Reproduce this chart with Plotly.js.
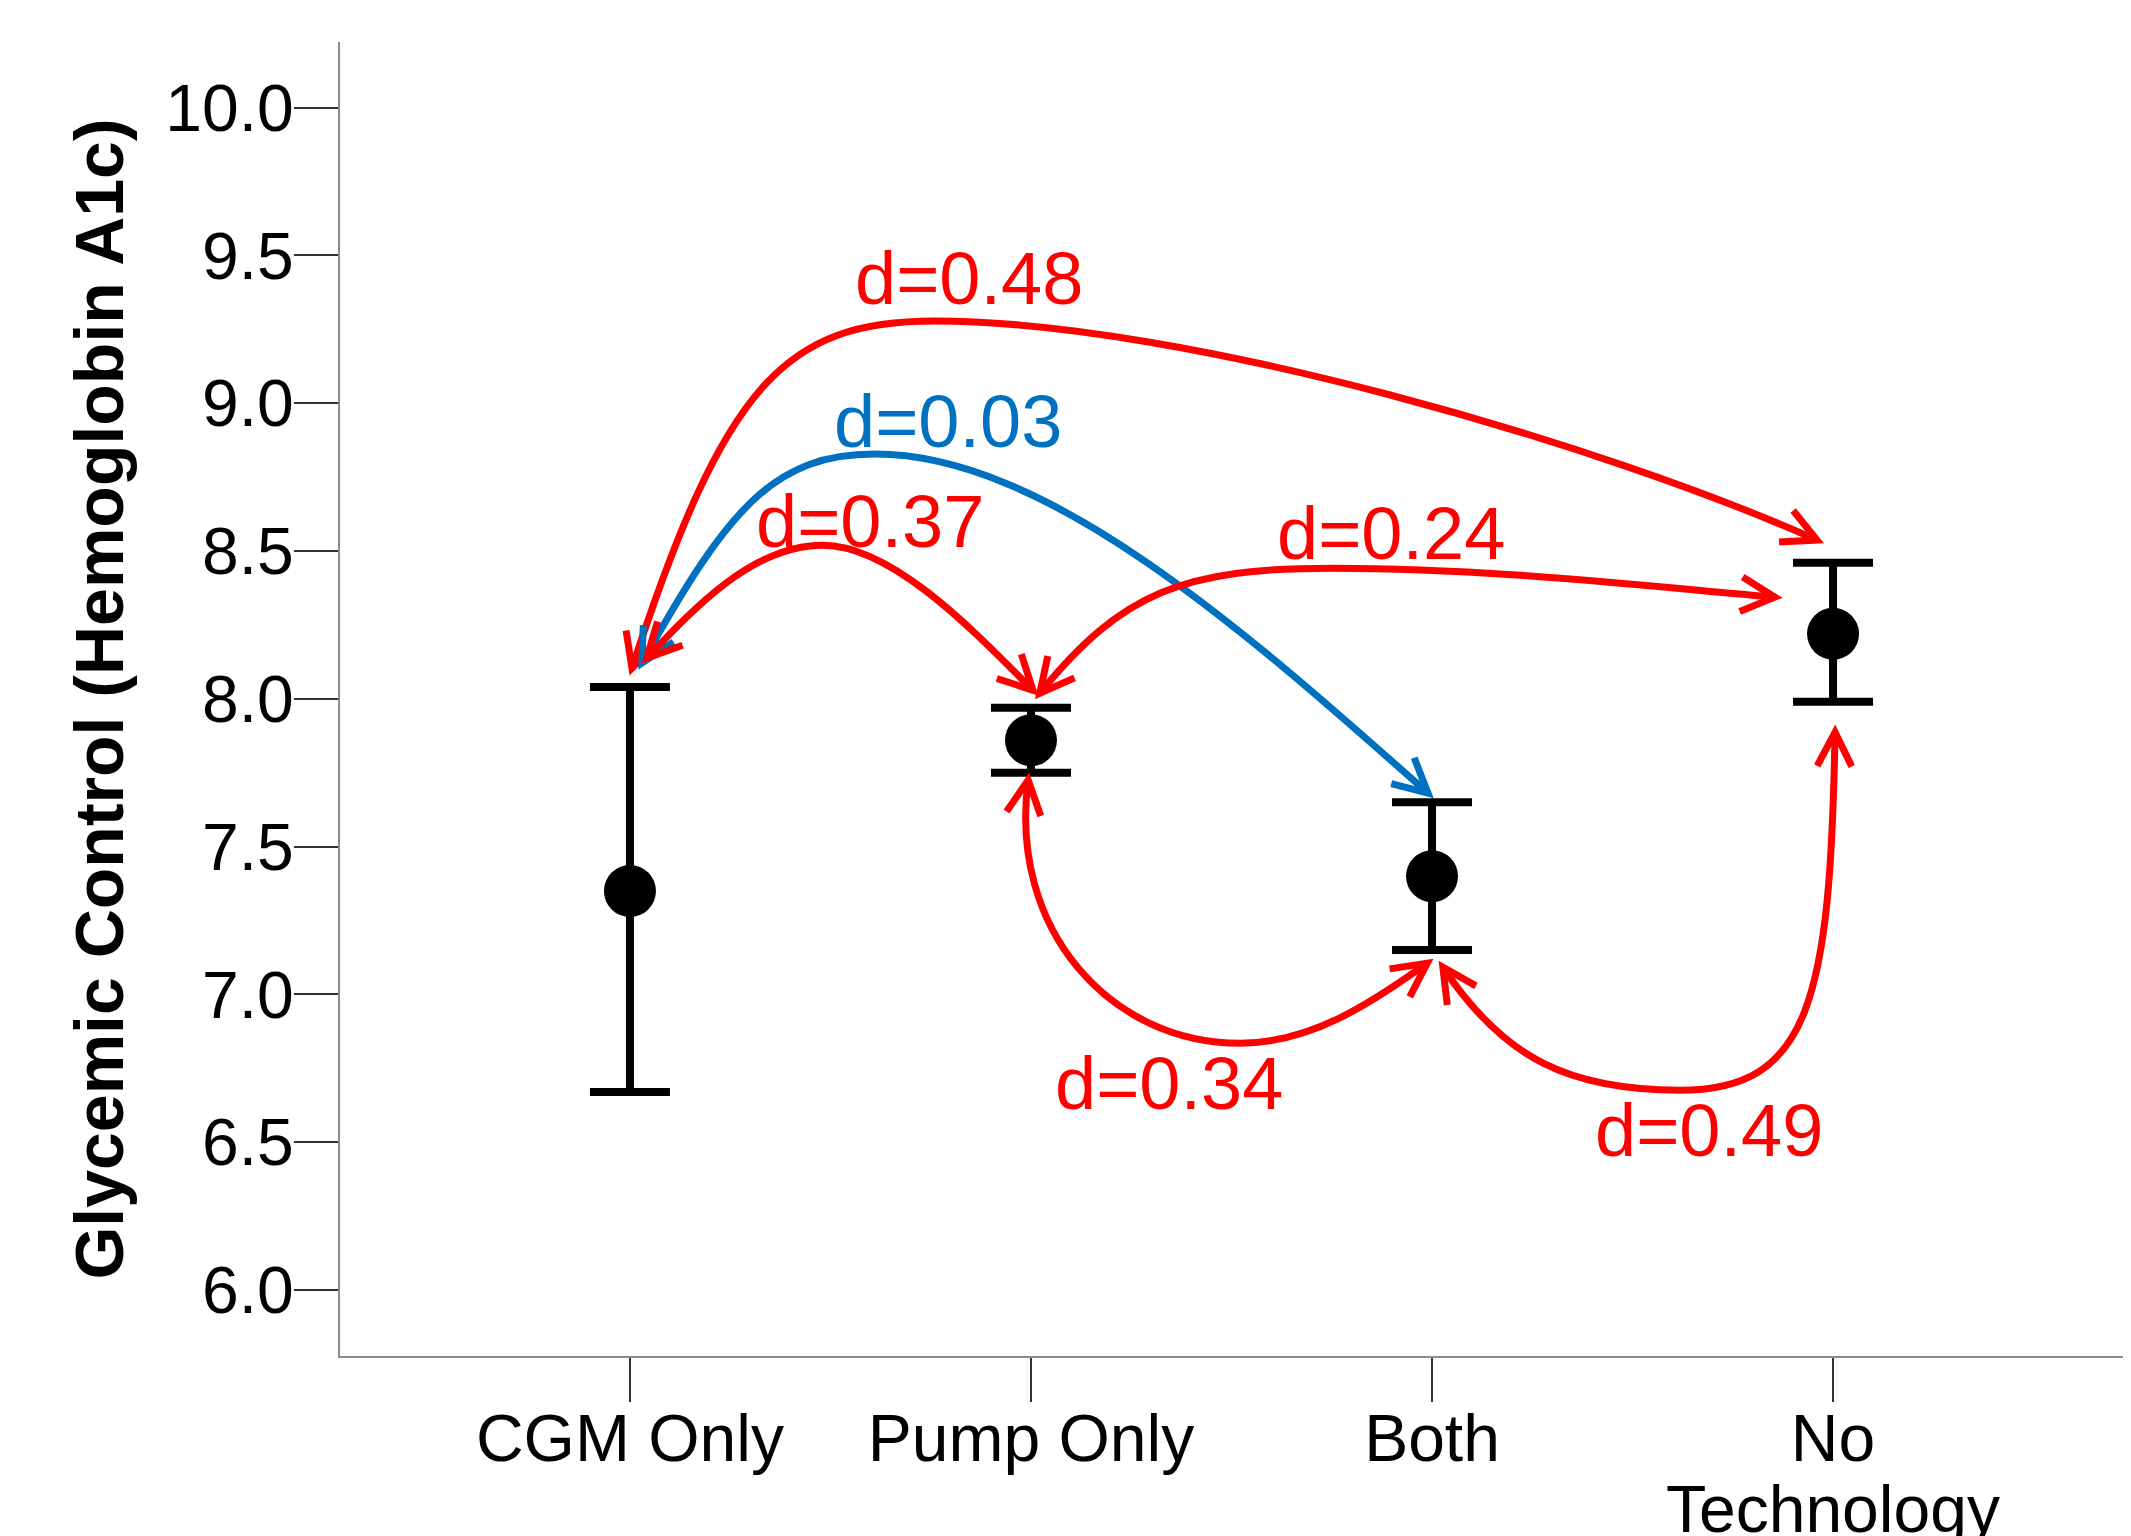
<!DOCTYPE html>
<html><head><meta charset="utf-8">
<script src="https://cdn.plot.ly/plotly-3.0.1.min.js"></script>
<style>html,body{margin:0;padding:0;background:#fff}</style>
</head><body>
<div id="chart" style="width:2131px;height:1536px"></div>
<script>
// ---- data ----
const categories = ["CGM Only", "Pump Only", "Both", "No Technology"];
const tickLabels = ["CGM Only", "Pump Only", "Both", "No"];
const meanA1c = [7.35, 7.86, 7.40, 8.22];
const upperCI = [8.04, 7.97, 7.65, 8.46];
const lowerCI = [6.67, 7.75, 7.15, 7.99];
const yTicks = [6.0, 6.5, 7.0, 7.5, 8.0, 8.5, 9.0, 9.5, 10.0];

// effect-size labels
const effectLabels = ["d=0.48", "d=0.03", "d=0.37", "d=0.24", "d=0.34", "d=0.49"];
const effectColors = ["#FF0000", "#0070C0", "#FF0000", "#FF0000", "#FF0000", "#FF0000"];
const labelX = [0.845, 0.793, 0.599, 1.897, 1.343, 2.690];
const labelY = [9.423, 8.939, 8.601, 8.561, 6.700, 6.541];

// connector curves: two cubic Bezier segments each
// [start, ctrl, ctrl, mid, ctrl, ctrl, end]  (x = category index, y = A1c units)
const arc048X = [0.005, 0.237, 0.387, 0.761, 1.384, 2.431, 2.960];
const arc048Y = [8.104, 9.068, 9.278, 9.278, 9.278, 8.858, 8.537];
const arc003X = [0.030, 0.247, 0.362, 0.611, 1.035, 1.524, 1.990];
const arc003Y = [8.121, 8.652, 8.828, 8.828, 8.828, 8.243, 7.681];
const arc037X = [0.042, 0.162, 0.307, 0.481, 0.656, 0.863, 1.005];
const arc037Y = [8.138, 8.310, 8.520, 8.520, 8.520, 8.222, 8.029];
const arc024X = [1.022, 1.227, 1.379, 1.753, 2.127, 2.484, 2.855];
const arc024Y = [8.019, 8.361, 8.442, 8.442, 8.442, 8.388, 8.344];
const arc034X = [0.993, 0.943, 1.197, 1.521, 1.696, 1.845, 1.988];
const arc034Y = [7.725, 7.221, 6.835, 6.835, 6.835, 6.967, 7.106];
const arc049X = [2.027, 2.180, 2.344, 2.618, 2.943, 2.993, 3.005];
const arc049Y = [7.092, 6.781, 6.676, 6.676, 6.676, 6.981, 7.887];

const arcsX = [arc048X, arc003X, arc037X, arc024X, arc034X, arc049X];
const arcsY = [arc048Y, arc003Y, arc037Y, arc024Y, arc034Y, arc049Y];

// ---- layout geometry ----
const W = 2131, H = 1536;
const M = {l: 340, r: 8, t: 42, b: 180};
const xRange = [-0.723, 3.723];
const yRange = [5.777, 10.222];
const pxX = (W - M.l - M.r) / (xRange[1] - xRange[0]);
const pxY = (H - M.t - M.b) / (yRange[1] - yRange[0]);
const FONT = "Liberation Sans, Arial, Helvetica, sans-serif";
const LW = 7;

const pt = (x, y) => x.toFixed(4) + ',' + y.toFixed(4);

function curvePath(xs, ys) {
  let p = 'M' + pt(xs[0], ys[0]);
  for (let i = 1; i + 2 < xs.length; i += 3) {
    p += ' C' + pt(xs[i], ys[i]) + ' ' + pt(xs[i + 1], ys[i + 1]) + ' ' + pt(xs[i + 2], ys[i + 2]);
  }
  return p;
}

function headPath(xs, ys, atEnd) {
  const n = xs.length;
  const i1 = atEnd ? n - 1 : 0, i0 = atEnd ? n - 2 : 1;
  let dx = (xs[i1] - xs[i0]) * pxX, dy = -(ys[i1] - ys[i0]) * pxY;
  const L = Math.hypot(dx, dy); dx /= L; dy /= L;
  const len = 38, ang = 27 * Math.PI / 180;
  const arm = s => {
    const c = Math.cos(s * ang), si = Math.sin(s * ang);
    const bx = -dx, by = -dy;
    const rx = bx * c - by * si, ry = bx * si + by * c;
    return [xs[i1] + rx * len / pxX, ys[i1] - ry * len / pxY];
  };
  const a = arm(1), b = arm(-1);
  return 'M' + pt(a[0], a[1]) + ' L' + pt(xs[i1], ys[i1]) + ' L' + pt(b[0], b[1]);
}

const shapes = [];
arcsX.forEach((xs, k) => {
  const ys = arcsY[k], col = effectColors[k];
  const base = {type: 'path', xref: 'x', yref: 'y', layer: 'above',
                line: {color: col, width: LW}};
  shapes.push(Object.assign({path: curvePath(xs, ys)}, base));
  shapes.push(Object.assign({path: headPath(xs, ys, false)}, base));
  shapes.push(Object.assign({path: headPath(xs, ys, true)}, base));
});

const traces = [{
  type: 'scatter', mode: 'markers', showlegend: false, hoverinfo: 'skip',
  x: categories.map((c, i) => i), y: meanA1c,
  marker: {color: '#000', size: 52, symbol: 'circle'},
  error_y: {
    type: 'data', symmetric: false,
    array: upperCI.map((u, i) => u - meanA1c[i]),
    arrayminus: lowerCI.map((l, i) => meanA1c[i] - l),
    color: '#000', thickness: 8, width: 40
  }
}];

const annotations = effectLabels.map((t, k) => ({
  text: t, x: labelX[k], y: labelY[k], xref: 'x', yref: 'y',
  showarrow: false, xanchor: 'center', yanchor: 'middle',
  font: {family: FONT, size: 74, color: effectColors[k]}
}));
annotations.push({
  text: 'Technology', x: 3, xref: 'x', y: 0, yref: 'paper',
  yanchor: 'top', xanchor: 'center', yshift: -114, showarrow: false,
  font: {family: FONT, size: 66, color: '#000'}
});

const layout = {
  width: W, height: H, margin: M,
  paper_bgcolor: '#fff', plot_bgcolor: '#fff',
  showlegend: false, hovermode: false,
  font: {family: FONT, color: '#000'},
  xaxis: {
    type: 'linear', range: xRange, tickvals: categories.map((c, i) => i), ticktext: tickLabels,
    showgrid: false, zeroline: false, showline: true, linecolor: '#8c8c8c', linewidth: 2,
    ticks: 'outside', ticklen: 44, tickwidth: 2, tickcolor: '#333', ticklabelstandoff: -20,
    tickfont: {family: FONT, size: 66, color: '#000'}
  },
  yaxis: {
    range: yRange, tickvals: yTicks, tickformat: '.1f',
    showgrid: false, zeroline: false, showline: true, linecolor: '#8c8c8c', linewidth: 2,
    ticks: 'outside', ticklen: 44, tickwidth: 2, tickcolor: '#333', ticklabelstandoff: -13,
    tickfont: {family: FONT, size: 66, color: '#000'},
    title: {text: 'Glycemic Control (Hemoglobin A1c)', font: {family: FONT, size: 68, color: '#000', weight: 'bold'}, standoff: 20}
  },
  shapes: shapes,
  annotations: annotations
};

Plotly.newPlot('chart', traces, layout, {displayModeBar: false, staticPlot: true});
</script>
</body></html>
